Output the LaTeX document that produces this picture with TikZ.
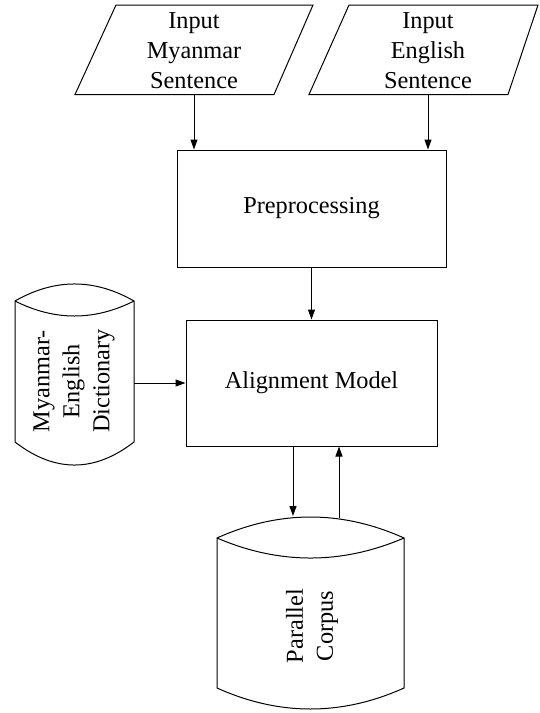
\documentclass[tikz,border=0pt]{standalone}
\usepackage{fontspec}
\setmainfont{Liberation Serif}
\usetikzlibrary{arrows.meta}
\begin{document}
\begin{tikzpicture}[x=1pt,y=-1pt,line width=1pt,
  lbl/.style={font=\fontsize{24.3}{30}\selectfont,align=center,inner sep=0pt},
  boxnode/.style={draw,lbl,inner sep=0pt},
  arr/.style={-{Triangle[length=10pt,width=7pt]}}]
\useasboundingbox (0,0) rectangle (539,713);
% input parallelograms
\draw (116,5) -- (313,5) -- (274,94.5) -- (75,94.5) -- cycle;
\node[lbl] (inMy) at (194,51) {Input\\Myanmar\\Sentence};
\draw (349,5) -- (538,5) -- (508,94.5) -- (309,94.5) -- cycle;
\node[lbl] (inEn) at (428,51) {Input\\English\\Sentence};
\coordinate (myOut) at (194,94.5);
\coordinate (enOut) at (428,94.5);
% boxes
\node[boxnode,minimum width=269pt,minimum height=117pt] (pre) at (311.5,208.5) {Preprocessing};
\node[boxnode,minimum width=251pt,minimum height=126pt] (align) at (311.5,383) {Alignment Model};
% dictionary
\draw (15,301) .. controls (54.7,278.3) and (94.3,278.3) .. (134,301)
      -- (134,442) .. controls (94.3,472.7) and (54.7,472.7) .. (15,442) -- cycle;
\draw (15,301) .. controls (54.7,321) and (94.3,321) .. (134,301);
\node[lbl,rotate=90] (dict) at (74,381) {Myanmar-\\English\\Dictionary};
\coordinate (dictOut) at (134,383);
% corpus
\draw (217,538) .. controls (279.3,510) and (341.7,510) .. (404,538)
      -- (404,688) .. controls (341.7,716) and (279.3,716) .. (217,688) -- cycle;
\draw (217,538) .. controls (279.3,564.7) and (341.7,564.7) .. (404,538);
\node[lbl,rotate=90] (corpus) at (312,626) {Parallel\\Corpus};
\coordinate (dn) at (293,516);
\coordinate (up) at (339,518);
% connectors
\draw[arr] (myOut) -- (myOut |- pre.north);
\draw[arr] (enOut) -- (enOut |- pre.north);
\draw[arr] (pre.south) -- (align.north);
\draw[arr] (dictOut) -- (align.west);
\draw[arr] (dn |- align.south) -- (dn);
\draw[arr] (up) -- (up |- align.south);
\end{tikzpicture}
\end{document}
